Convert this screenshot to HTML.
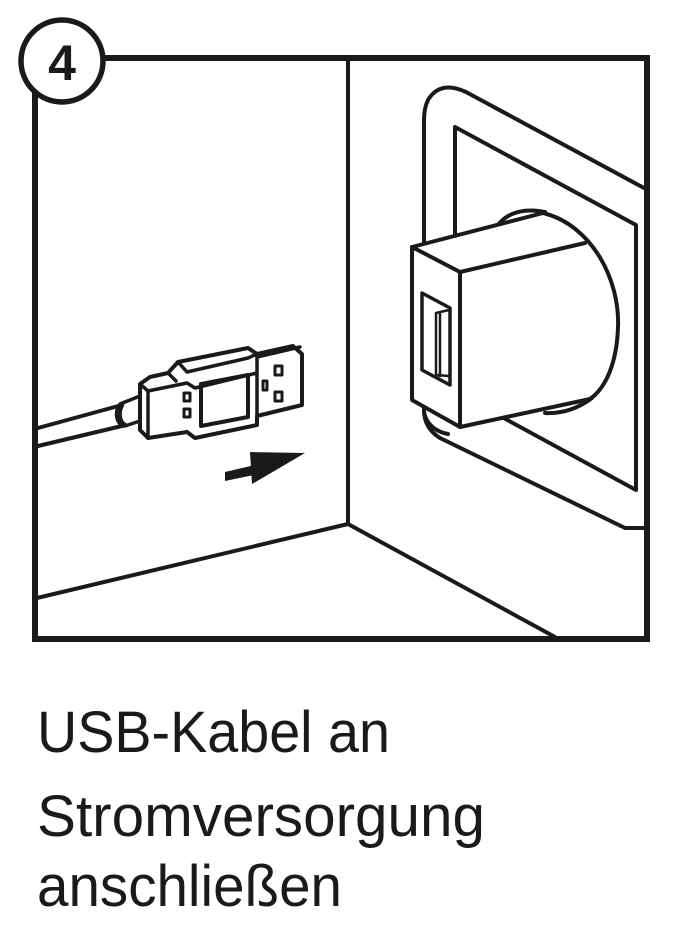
<!DOCTYPE html>
<html><head><meta charset="utf-8"><style>
html,body{margin:0;padding:0;background:#fff;}
svg{display:block;}
</style></head><body>
<svg width="680" height="948" viewBox="0 0 680 948" xmlns="http://www.w3.org/2000/svg">
<g fill="none" stroke="#1a1a1a" stroke-linejoin="round" stroke-linecap="round">
<rect x="35" y="58" width="612" height="581" stroke-width="6" stroke-linejoin="miter"/>
<line x1="348" y1="58" x2="348" y2="524" stroke-width="4"/>
<line x1="348" y1="524" x2="37" y2="598" stroke-width="4"/>
<line x1="348" y1="524" x2="555" y2="637" stroke-width="4"/>
<path d="M644,188 L466,92 Q440,80 428,100 Q424,108 424,120 L424,410 Q424,428 440,438 L625,528 L645,528" stroke-width="4"/>
<path d="M455,250 L455,127 L636,225 L636,490 L500,416" stroke-width="4"/>
<path d="M498,225 C508,212 525,208 545,212" stroke-width="4"/>
<path d="M545,413 C565,414 580,407 592,398" stroke-width="4"/>
<path d="M424,412 C426,424 436,432 448,434" stroke-width="4"/>
<path d="M412,247 L543,213 C592,225 620,280 618,327 C617,362 606,388 590,399 L460,427 L412,400 Z" fill="#fff" stroke-width="4"/>
<path d="M412,247 L460,272 L585,243" stroke-width="4"/>
<line x1="460" y1="272" x2="460" y2="427" stroke-width="4"/>
<path d="M422,293 L450,308 L450,385 L422,370 Z" stroke-width="3.5"/>
<path d="M436,375 L436,313 L449,310 M440,376 L440,314 M436,375 L449,376" stroke-width="2.5"/>
<path d="M38,428 L122,405 M38,446 L126,425" stroke-width="4"/>
<path d="M120,404 C114,412 116,425 125,426 L140,421 L140,396 Z" fill="#fff" stroke-width="3.5"/>
<path d="M122,405 C118,412 119,422 125,425" stroke-width="4.5"/>
<path d="M140,384 L140,430 L148,438 L187,432 L195,438 L257,425 L257,416 L302,405 L302,354 L293,346 L257,354 L248,348 L178,362 L168,373 L150,377 Z" fill="#fff" stroke-width="4"/>
<path d="M140,384 L148,391 L187,383 L195,388 L257,373 M148,391 L148,438 M168,373 L176,381 M178,362 L187,372 L248,358 L257,354 M257,354 L257,416 M257,357 L300,347" stroke-width="3.5"/>
<path d="M201,384 L248,375 L248,417 L201,426 Z" stroke-width="4"/>
<rect x="184" y="393" width="6" height="8" stroke-width="3"/>
<rect x="184" y="409" width="6" height="8" stroke-width="3"/>
<rect x="263" y="381" width="4" height="9" stroke-width="3"/>
<rect x="275" y="366" width="7" height="9" stroke-width="3"/>
<rect x="275" y="392" width="7" height="9" stroke-width="3"/>
<circle cx="62" cy="61" r="41" fill="#fff" stroke-width="5.5"/>
</g>
<path d="M225,472 L255,465 L254,475 L225,481 Z" fill="#1a1a1a"/>
<path d="M250,452 L305,453 L252,484 Z" fill="#1a1a1a"/>
<text x="62" y="80" text-anchor="middle" font-family="Liberation Sans, sans-serif" font-weight="bold" font-size="50" fill="#1a1a1a">4</text>
<g font-family="Liberation Sans, sans-serif" font-size="58" fill="#1a1a1a">
<text x="37" y="752" textLength="353" lengthAdjust="spacingAndGlyphs">USB-Kabel an</text>
<text x="37" y="836" textLength="448" lengthAdjust="spacingAndGlyphs">Stromversorgung</text>
<text x="37" y="906" textLength="305" lengthAdjust="spacingAndGlyphs">anschließen</text>
</g>
</svg>
</body></html>
